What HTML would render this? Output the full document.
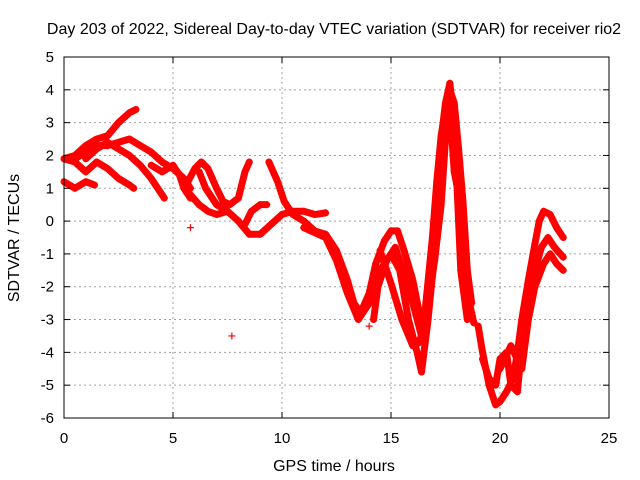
<!DOCTYPE html>
<html><head><meta charset="utf-8"><style>
body{margin:0;background:#fff;}
svg{display:block;font-family:"Liberation Sans",sans-serif;}
</style></head><body>
<svg id="chart" width="640" height="480">
<text x="334" y="34" font-size="16" text-anchor="middle">Day 203 of 2022, Sidereal Day-to-day VTEC variation (SDTVAR) for receiver rio2</text>
<g id="grid"></g><g id="data"></g><g id="axes"></g>
<text x="334" y="471" font-size="16" text-anchor="middle">GPS time / hours</text>
<text transform="translate(19,238) rotate(-90)" font-size="16" text-anchor="middle">SDTVAR / TECUs</text>
</svg>
<script>
const xTicks=[0,5,10,15,20,25];
const yTicks=[-6,-5,-4,-3,-2,-1,0,1,2,3,4,5];
const s1=[[0,1.9],[0.5,2],[1,2.3],[1.5,2.5],[2,2.6],[2.5,3],[3,3.3],[3.3,3.4]];
const s2=[[0.5,1.9],[1,2.1],[1.5,2.3],[2,2.3],[2.5,2.4],[3,2.5],[3.5,2.3],[4,2.1],[4.5,1.8],[5,1.6],[5.5,1.3],[5.8,1.0]];
const s3=[[1,1.9],[1.5,2.2],[2,2.4],[2.5,2.2],[3,2.0],[3.5,1.7],[4,1.3],[4.3,1.0],[4.6,0.7]];
const s4=[[0,1.2],[0.5,1.0],[1,1.2],[1.4,1.1]];
const s5=[[0,1.9],[0.5,1.8],[1,1.5],[1.5,1.8],[2,1.6],[2.5,1.3],[3,1.1],[3.2,1.0]];
const s6=[[4,1.7],[4.5,1.5],[5,1.7],[5.3,1.4],[5.5,1.0],[5.8,0.7]];
const s7=[[5.6,1.1],[6,1.6],[6.3,1.8],[6.6,1.6],[7,1.0],[7.3,0.6],[7.6,0.5],[8,0.7],[8.3,1.5],[8.5,1.8]];
const s8=[[5.8,0.8],[6.2,0.5],[6.6,0.3],[7,0.2],[7.5,0.3],[8,0.0],[8.5,-0.4],[9,-0.4],[9.5,-0.1],[10,0.2],[10.5,0.3],[11,0.3],[11.5,0.2],[12,0.25]];
const s9=[[6.2,1.5],[6.5,1.0],[7,0.5],[7.5,0.3]];
const s10=[[8.3,-0.1],[8.6,0.3],[9,0.5],[9.3,0.5]];
const s11=[[9.4,1.8],[9.8,1.2],[10.1,0.6],[10.5,0.2],[11,0.0],[11.5,-0.3],[12,-0.4],[12.5,-0.9],[13,-1.8],[13.3,-2.5],[13.6,-2.8],[14,-2.2],[14.3,-1.3],[14.7,-0.6],[15,-0.3],[15.3,-0.3],[15.6,-0.9],[16,-1.8],[16.3,-2.8],[16.5,-3],[16.8,-1.6],[17,0],[17.3,2.5],[17.5,3.6],[17.7,4.2],[17.9,3],[18.1,1],[18.3,-1],[18.6,-2.5],[18.8,-3.1]];
const s12=[[11,-0.2],[12,-0.5],[12.5,-1.2],[13,-2.2],[13.5,-3.0],[14,-2.5],[14.5,-1.5],[15,-1.0],[15.4,-1.5],[15.8,-3.0],[16.2,-4.0],[16.4,-4.6],[16.7,-3.0],[17,-1],[17.2,1.5],[17.4,3],[17.6,3.8],[17.8,2.5],[18,1.5],[18.2,-1.5],[18.5,-3]];
const s13=[[14.5,-0.9],[15,-1.9],[15.5,-3.0],[16,-3.8],[16.3,-3.7],[16.6,-3.0],[17,-1.2],[17.3,0.5],[17.5,2.5],[17.7,3.5],[17.9,1.5],[18.2,0.5]];
const s14=[[19,-3.2],[19.2,-4],[19.5,-5],[19.8,-5.6],[20,-5.5],[20.3,-5.2],[20.6,-4.8],[20.8,-4],[21,-3],[21.3,-1.8],[21.6,-0.7],[21.8,0],[22,0.3],[22.3,0.2],[22.6,-0.2],[22.9,-0.5]];
const s15=[[19.2,-4.2],[19.5,-4.8],[19.8,-5],[20,-4.2],[20.3,-4],[20.5,-5],[20.8,-5.2],[21,-3.8],[21.3,-2.5],[21.6,-1.5],[21.9,-0.8],[22.2,-0.5],[22.5,-0.8],[22.9,-1.1]];
const s16=[[20,-4.5],[20.5,-3.8],[21,-4.5],[21.3,-3],[21.6,-2],[22,-1.3],[22.3,-1.0],[22.6,-1.3],[22.9,-1.5]];
const s17=[[16.6,-2.5],[16.9,-0.5],[17.1,1.2],[17.3,2.6],[17.5,3.4],[17.7,4.0],[17.9,3.6],[18.1,2.2],[18.3,0.6],[18.5,-1.5],[18.7,-2.5]];
const s18=[[14.2,-3.0],[14.4,-2.0],[14.8,-1.2],[15.2,-0.8],[15.6,-1.6],[16,-2.5],[16.4,-3.5]];
const isolated=[[5.8,-0.2],[7.7,-3.5],[14,-3.2]];
const seriesList=[s1,s2,s3,s4,s5,s6,s7,s8,s9,s10,s11,s12,s13,s14,s15,s16,s17,s18];

const L=64,R=609,T=57,B=418;
const X=v=>L+(v-0)/25*(R-L);
const Y=v=>B-(v+6)/11*(B-T);
const NS="http://www.w3.org/2000/svg";
function mk(tag,parent,attrs){const e=document.createElementNS(NS,tag);for(const k in attrs)e.setAttribute(k,attrs[k]);parent.appendChild(e);return e;}
const grid=document.getElementById('grid'),axes=document.getElementById('axes'),data=document.getElementById('data');
xTicks.forEach(t=>{
  if(t>0&&t<25){const g=mk('line',grid,{x1:X(t),x2:X(t),y1:T,y2:B,stroke:'#a0a0a0','stroke-dasharray':'2,3','stroke-width':1});
  
  }
  const l=mk('text',axes,{x:X(t),y:B+25,'font-size':15,'text-anchor':'middle'});l.textContent=t;
  
  
  mk('line',axes,{x1:X(t),x2:X(t),y1:B,y2:B-6,stroke:'#000'});
  mk('line',axes,{x1:X(t),x2:X(t),y1:T,y2:T+6,stroke:'#000'});
});
yTicks.forEach(t=>{
  if(t>-6&&t<5){const g=mk('line',grid,{x1:L,x2:R,y1:Y(t),y2:Y(t),stroke:'#a0a0a0','stroke-dasharray':'2,3','stroke-width':1});
  
  }
  const l=mk('text',axes,{x:L-10,y:Y(t)+5,'font-size':15,'text-anchor':'end'});l.textContent=t;
  
  
  mk('line',axes,{x1:L,x2:L+6,y1:Y(t),y2:Y(t),stroke:'#000'});
  mk('line',axes,{x1:R,x2:R-6,y1:Y(t),y2:Y(t),stroke:'#000'});
});
const fr=mk('rect',axes,{x:L,y:T,width:R-L,height:B-T,fill:'none',stroke:'#000'});


function plus(x,y){const p=mk('path',data,{d:`M${x-3.5},${y}h7M${x},${y-3.5}v7`,stroke:'#f00','stroke-width':1.2});
  
  }
seriesList.forEach((s,i)=>{
  const pl=mk('polyline',data,{points:s.map(p=>X(p[0])+','+Y(p[1])).join(' '),fill:'none',stroke:'#f00','stroke-width':7,'stroke-linejoin':'round','stroke-linecap':'round'});
  
  
  s.forEach(p=>plus(X(p[0]),Y(p[1])));
});
isolated.forEach(p=>plus(X(p[0]),Y(p[1])));
</script>
</body></html>
